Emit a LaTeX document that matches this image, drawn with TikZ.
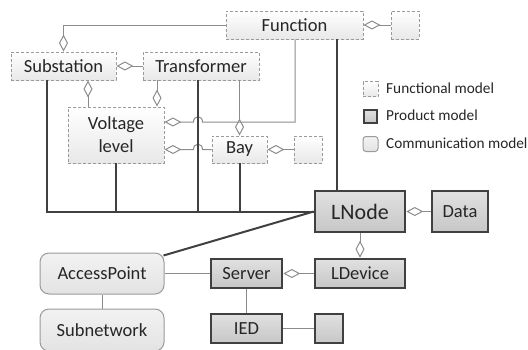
\documentclass[tikz,border=0pt]{standalone}
\usepackage{fontspec}
\setmainfont{Carlito}
\usetikzlibrary{arrows.meta}
\definecolor{dk}{HTML}{404040}
\definecolor{ln}{HTML}{8C8C8C}
\definecolor{fb}{HTML}{9A9A9A}
\definecolor{tx}{HTML}{262626}
\tikzset{
  boxtext/.style={font=\fontsize{18.5}{23}\selectfont, text=tx, inner sep=0pt, align=center},
  func/.style={boxtext, draw=fb, dash pattern=on 3pt off 2pt, line width=0.9pt, top color=white, bottom color=black!9},
  prod/.style={boxtext, draw=dk, line width=2.6pt, top color=black!12, bottom color=black!22},
  comm/.style={boxtext, draw=fb, line width=1pt, rounded corners=9pt, top color=black!5, bottom color=black!11},
  thinln/.style={draw=ln, line width=1pt},
  thickln/.style={draw=dk, line width=2pt},
  agg/.style={thinln, -{Diamond[open, length=17pt, width=9pt]}},
  legtext/.style={font=\fontsize{15.3}{18}\selectfont, text=tx, anchor=west, inner sep=0pt},
}
\begin{document}
\begin{tikzpicture}[x=1pt,y=-1pt]
\useasboundingbox (0,0) rectangle (528,349);

% functional model
\node[func, minimum width=137pt, minimum height=28pt] (Function) at (294.5,25) {Function};
\node[func, minimum width=28pt, minimum height=28pt] (FuncBox) at (405,25) {};
\node[func, minimum width=105pt, minimum height=28pt] (Substation) at (63.5,66) {Substation};
\node[func, minimum width=116pt, minimum height=28pt] (Transformer) at (201,66) {Transformer};
\node[func, minimum width=96pt, minimum height=56pt] (Voltage) at (116,135) {Voltage\\level};
\node[func, minimum width=55pt, minimum height=27pt] (Bay) at (239.5,149.5) {Bay};
\node[func, minimum width=28pt, minimum height=27pt] (BayBox) at (308,149.5) {};

% product model
\node[prod, minimum width=90pt, minimum height=41pt, font=\fontsize{22}{26}\selectfont] (LNode) at (360,211.5) {LNode};
\node[prod, minimum width=56pt, minimum height=41pt] (Data) at (460,211.5) {Data};
\node[prod, minimum width=90pt, minimum height=29pt] (LDevice) at (360,273.5) {LDevice};
\node[prod, minimum width=71pt, minimum height=29pt] (Server) at (246.5,273.5) {Server};
\node[prod, minimum width=71pt, minimum height=29pt] (IED) at (246.5,328.5) {IED};
\node[prod, minimum width=28pt, minimum height=29pt] (IEDBox) at (329,328.5) {};

% communication model
\node[comm, minimum width=124pt, minimum height=41pt] (AccessPoint) at (102,273.5) {AccessPoint};
\node[comm, minimum width=124pt, minimum height=42pt] (Subnetwork) at (102,330) {Subnetwork};

% legend
\node[func, minimum width=15pt, minimum height=15pt] (LegF) at (370.5,89) {};
\node[prod, minimum width=13pt, minimum height=13pt] (LegP) at (370.5,116.5) {};
\node[comm, minimum width=15pt, minimum height=15pt, rounded corners=3pt] (LegC) at (370.5,144) {};
\node[legtext] (LegFt) at (386,88) {Functional model};
\node[legtext] (LegPt) at (386,115.5) {Product model};
\node[legtext] (LegCt) at (386,143) {Communication model};

% aggregations (thin)
\draw[agg] (Function.west) -| (Substation.north);
\draw[agg] (FuncBox.west) -- (Function.east);
\draw[agg] (Transformer.west) -- (Substation.east);
\draw[agg] ([xshift=-28pt]Voltage.north) -- ([xshift=24.5pt]Substation.south);
\draw[agg] ([xshift=-44pt]Transformer.south) -- ([xshift=41pt]Voltage.north);
\draw[agg] ([xshift=38.5pt]Transformer.south) -- (Bay.north);
\draw[agg] ([xshift=0.5pt]Function.south) -- (295,122) -- (202.5,122)
   .. controls (202.5,115) and (193.5,115) .. (193.5,122) -- ([yshift=13pt]Voltage.east);
\draw[agg] (Bay.west) -- (202.5,149.5)
   .. controls (202.5,142.5) and (193.5,142.5) .. (193.5,149.5) -- (Voltage.east |- Bay.west);
\draw[agg] (BayBox.west) -- (Bay.east);
\draw[agg] (Data.west) -- (LNode.east);
\draw[agg] (LNode.south) -- (LDevice.north);
\draw[agg] (LDevice.west) -- (Server.east);

% plain thin associations
\draw[thinln] (AccessPoint.east) -- (Server.west);
\draw[thinln] (AccessPoint.south) -- (Subnetwork.north);
\draw[thinln] (Server.south) -- (IED.north);
\draw[thinln] (IED.east) -- (IEDBox.west);

% thick associations to LNode
\draw[thickln] ([xshift=-16.5pt]Substation.south) |- (LNode.west);
\draw[thickln] (Voltage.south) -- (Voltage.south |- LNode.west);
\draw[thickln] ([xshift=-3pt]Transformer.south) -- ([xshift=-3pt]Transformer.south |- LNode.west);
\draw[thickln] ([xshift=0.5pt]Bay.south) -- ([xshift=0.5pt]Bay.south |- LNode.west);
\draw[thickln] ([xshift=42.5pt]Function.south) -- ([xshift=-23pt]LNode.north);
\draw[thickln] ([xshift=-1pt,yshift=-3pt]AccessPoint.north east) -- (LNode.west);
\end{tikzpicture}
\end{document}
